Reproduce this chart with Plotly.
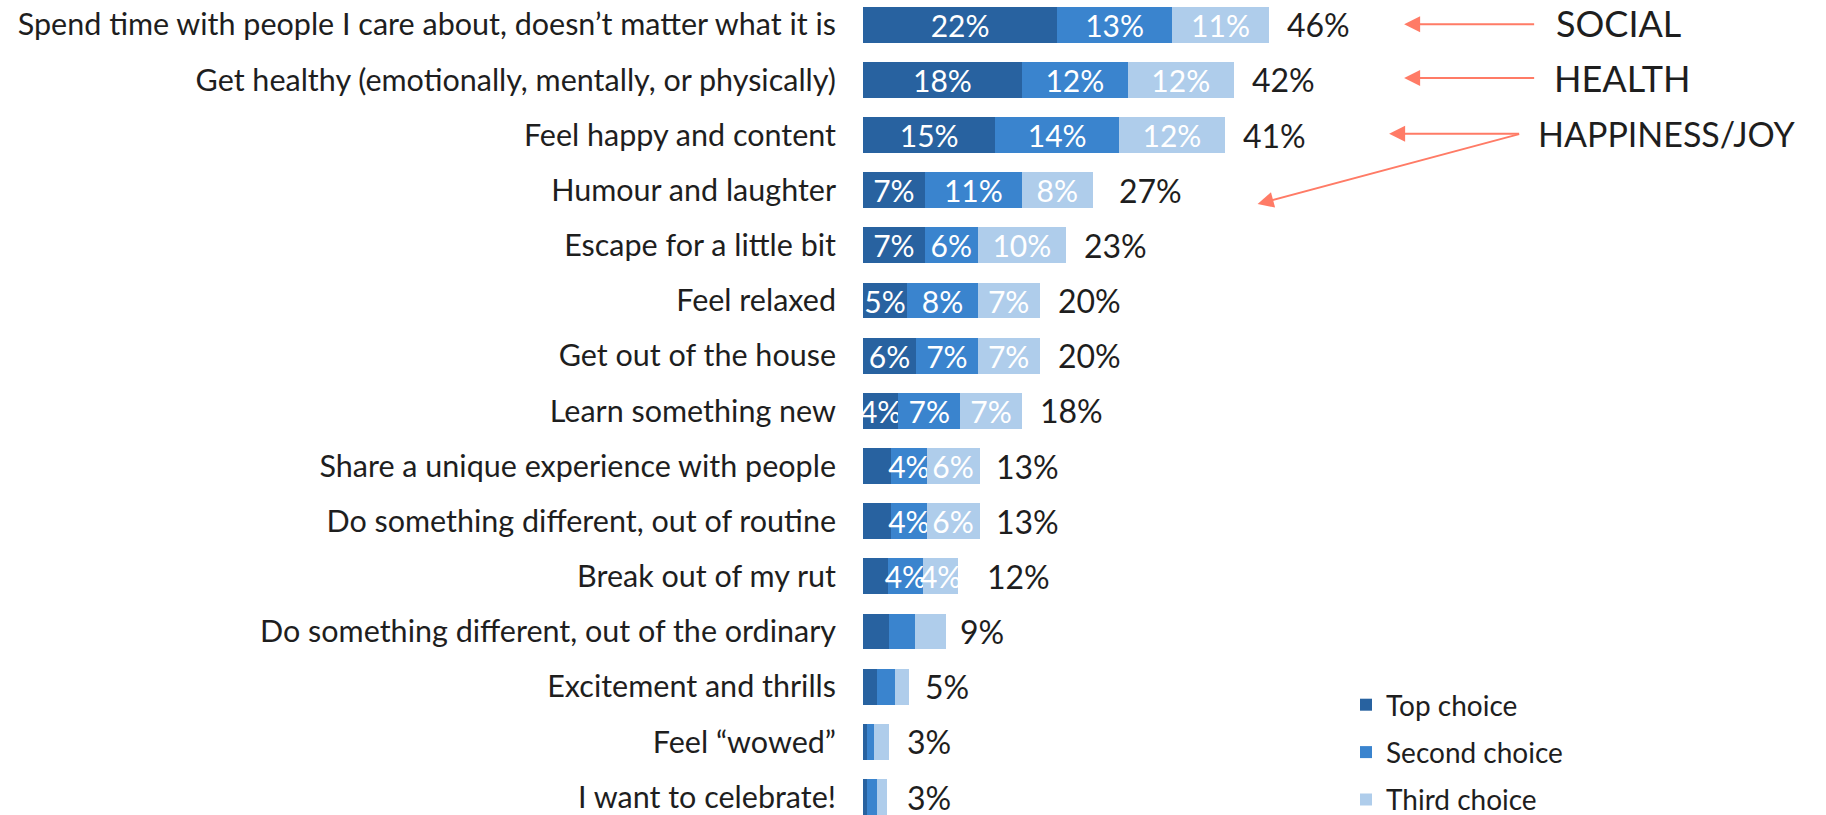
import plotly.graph_objects as go

# Reasons people give for going out, share of respondents (%)
categories = [
    "Spend time with people I care about, doesn’t matter what it is",
    "Get healthy (emotionally, mentally, or physically)",
    "Feel happy and content",
    "Humour and laughter",
    "Escape for a little bit",
    "Feel relaxed",
    "Get out of the house",
    "Learn something new",
    "Share a unique experience with people",
    "Do something different, out of routine",
    "Break out of my rut",
    "Do something different, out of the ordinary",
    "Excitement and thrills",
    "Feel “wowed”",
    "I want to celebrate!",
]
top_choice = [22, 18, 15, 7, 7, 5, 6, 4, 3.2, 3.2, 2.8, 3.0, 1.6, 0.5, 0.5]
second_choice = [13, 12, 14, 11, 6, 8, 7, 7, 4, 4, 4, 2.9, 2.0, 0.7, 1.1]
third_choice = [11, 12, 12, 8, 10, 7, 7, 7, 6, 6, 4, 3.5, 1.6, 1.8, 1.1]
totals = [46, 42, 41, 27, 23, 20, 20, 18, 13, 13, 12, 9, 5, 3, 3]

# Segments too narrow to carry a label stay blank
top_labeled = [True] * 8 + [False] * 7
second_labeled = [True] * 11 + [False] * 4
third_labeled = [True] * 11 + [False] * 4

series = [
    ("Top choice", top_choice, top_labeled, "#2862A0"),
    ("Second choice", second_choice, second_labeled, "#3A84CE"),
    ("Third choice", third_choice, third_labeled, "#AFCDEB"),
]

FONT = "Lato, 'Open Sans', sans-serif"
INK = "#1E1E1E"
ACCENT = "#FF7B66"

fig = go.Figure()
for i, (name, vals, shown, color) in enumerate(series):
    fig.add_trace(go.Bar(
        name=name,
        y=categories,
        x=vals,
        orientation="h",
        marker=dict(color=color, line=dict(width=0)),
        width=0.65,
        text=[f"{v:.0f}%" if s else "" for v, s in zip(vals, shown)],
        textposition="inside",
        insidetextanchor="middle",
        textangle=0,
        constraintext="none",
        textfont=dict(family=FONT, size=30, color="white"),
        hoverinfo="skip",
        legendgroup=f"g{i}",
    ))

annotations = []
# Totals to the right of each bar
for cat, tot in zip(categories, totals):
    annotations.append(dict(
        x=tot, y=cat, xref="x", yref="y",
        text=f"{tot}%", showarrow=False,
        xanchor="left", yanchor="middle", xshift=16,
        font=dict(family=FONT, size=32, color=INK),
    ))

# Theme callouts with arrows
def arrow(x, y, ax, ay):
    return dict(
        x=x, y=y, ax=ax, ay=ay, xref="x", yref="y", axref="x", ayref="y",
        text="", showarrow=True, arrowhead=2, arrowsize=1.6, arrowwidth=2,
        arrowcolor=ACCENT,
    )

annotations += [
    arrow(61.3, -0.01, 76.2, -0.01),
    arrow(61.3, 0.966, 76.2, 0.966),
    arrow(59.6, 1.976, 74.5, 1.976),
    arrow(44.7, 3.25, 74.5, 1.976),
]
for label, x, y, size in [("SOCIAL", 78.3, -0.04, 36), ("HEALTH", 78.1, 0.97, 36),
                          ("HAPPINESS/JOY", 76.2, 1.97, 34)]:
    annotations.append(dict(
        x=x, y=y, xref="x", yref="y", text=label, showarrow=False,
        xanchor="left", yanchor="middle",
        font=dict(family=FONT, size=size, color=INK),
    ))

fig.update_layout(
    width=1826, height=815,
    margin=dict(l=863, r=0, t=0, b=0, autoexpand=False),
    paper_bgcolor="white", plot_bgcolor="white",
    barmode="stack", bargap=0.35,
    showlegend=True,
    legend=dict(
        x=(1346 - 863) / (1826 - 863), y=1 - 680 / 815,
        xanchor="left", yanchor="top",
        traceorder="grouped", tracegroupgap=8,
        font=dict(family=FONT, size=28, color=INK),
        bgcolor="rgba(0,0,0,0)",
    ),
    xaxis=dict(range=[0, (1826 - 862.7) / 8.83], visible=False, fixedrange=True),
    yaxis=dict(
        type="category", categoryorder="array", categoryarray=categories,
        range=[14.326, -0.448],
        showgrid=False, zeroline=False, showline=False,
        ticks="", ticklabelstandoff=26,
        tickfont=dict(family=FONT, size=30.5, color=INK),
    ),
    annotations=annotations,
    font=dict(family=FONT),
)

fig.write_html("out.html")
